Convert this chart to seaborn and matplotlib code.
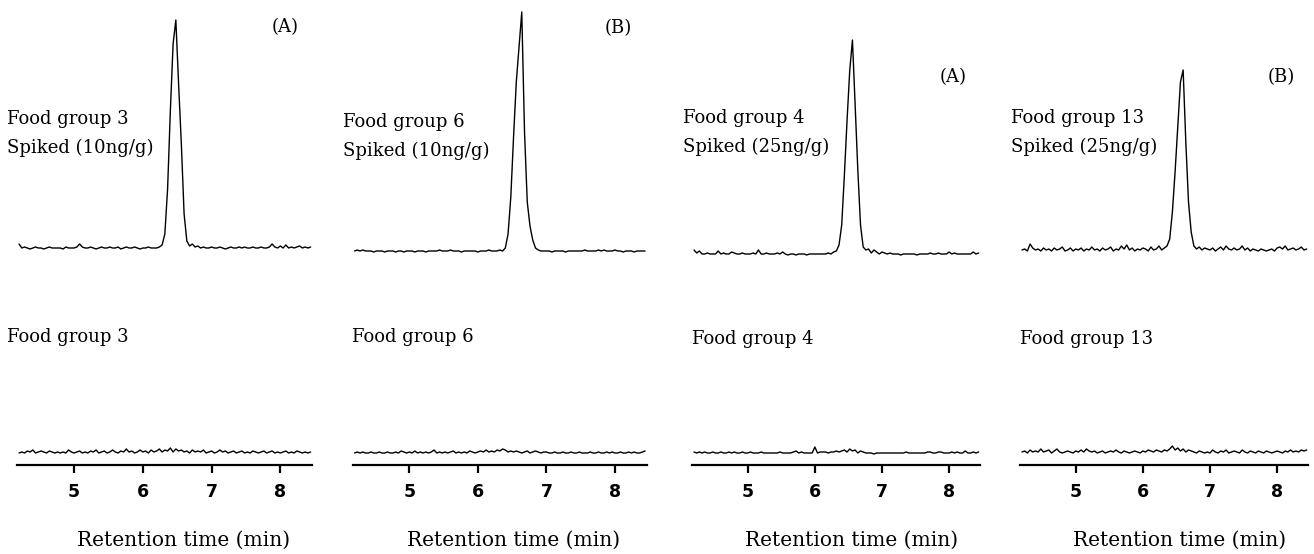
import numpy as np
import pandas as pd
import matplotlib
matplotlib.use("Agg")
import matplotlib.pyplot as plt
import seaborn as sns

# sampling grid of the chromatograms (min)
t_start = 4.20
t_step = 0.04

# signal above each trace's own baseline (arbitrary units)
spiked_3 = [5, 1, 2, 1, 0, 1, 2, 1, 1, 0,
            1, 2, 1, 1, 1, 1, 0, 2, 1, 1,
            1, 2, 5, 2, 1, 1, 2, 1, 0, 1,
            2, 1, 1, 2, 1, 1, 2, 0, 1, 2,
            1, 1, 2, 1, 0, 1, 1, 2, 1, 1,
            1, 2,
            4, 15, 60, 138, 205, 229, 165, 105, 35, 8, 3,
            5, 2, 3, 1, 2, 1, 1,
            2, 1, 1, 2, 1, 0, 1, 2, 1, 1,
            2, 1, 2, 1, 1, 2, 1, 1, 2, 1,
            1, 2, 5, 2, 1, 3, 1, 4, 1, 2,
            1, 2, 3, 1, 2, 1, 2]
blank_3 = [1, 2, 1, 3, 2, 4, 1, 2, 3, 2,
           1, 3, 2, 1, 2, 1, 2, 1, 4, 2,
           1, 2, 3, 1, 2, 1, 3, 2, 4, 1,
           2, 3, 1, 2, 4, 2, 1, 3, 2, 5,
           2, 3, 1, 2, 4, 2, 3, 1, 4, 2,
           3, 5, 2, 4, 3, 6, 2, 5, 3, 4,
           2, 3, 1, 4, 2, 3, 2, 4, 1, 2,
           3, 1, 2, 4, 2, 3, 1, 2, 3, 1,
           2, 3, 1, 2, 1, 3, 2, 1, 2, 3,
           1, 2, 3, 1, 2, 1, 2, 3, 1, 2,
           1, 3, 2, 1, 2, 1, 2]

spiked_6 = [1, 2, 1, 2, 1, 1, 1, 0, 1, 1,
            1, 0, 1, 1, 1, 0, 1, 1, 0, 1,
            1, 1, 0, 1, 1, 1, 0, 1, 1, 1,
            1, 2, 1, 1, 1, 2, 1, 1, 1, 0,
            1, 1, 1, 1, 1, 0, 1, 1, 1, 2,
            1, 1, 1, 2, 1,
            4, 18, 55, 115, 170, 205, 240, 120, 50, 26, 12, 4,
            2, 1, 1,
            1, 1, 0, 1, 1, 1, 1, 0, 1, 1,
            1, 1, 1, 1, 2, 1, 1, 1, 1, 2,
            1, 2, 1, 1, 1, 2, 1, 1, 0, 1,
            1, 1, 0, 1, 1, 1, 1]
blank_6 = [1, 2, 1, 2, 1, 1, 2, 1, 1, 2,
           1, 1, 2, 1, 1, 2, 1, 3, 2, 1,
           2, 1, 3, 1, 2, 1, 2, 1, 2, 4,
           1, 2, 1, 2, 1, 2, 3, 1, 2, 1,
           2, 1, 3, 2, 1, 2, 3, 2, 4, 2,
           3, 2, 4, 3, 5, 4, 2, 3, 2, 3,
           2, 1, 2, 3, 1, 2, 3, 2, 1, 2,
           2, 1, 1, 2, 1, 1, 2, 1, 1, 2,
           1, 1, 2, 1, 1, 1, 2, 1, 1, 2,
           1, 1, 2, 1, 2, 1, 1, 2, 1, 1,
           2, 1, 2, 1, 1, 2, 3]

spiked_4 = [5, 2, 4, 1, 1, 2, 1, 1, 1, 4,
            1, 2, 1, 1, 3, 2, 1, 1, 2, 1,
            1, 1, 2, 1, 5, 1, 1, 2, 1, 1,
            1, 2, 1, 3, 1, 0, 1, 1, 0, 1,
            1, 1, 0, 1, 1, 1, 1, 1, 1, 1,
            2, 1, 3,
            4, 10, 30, 80, 135, 185, 215, 150, 85, 30, 8, 5,
            6, 2, 5, 3, 1,
            3, 2, 1, 2, 1, 1, 1, 0, 1, 1,
            1, 1, 1, 0, 1, 1, 1, 1, 2, 1,
            1, 2, 1, 1, 1, 3, 1, 2, 1, 1,
            1, 1, 1, 1, 3, 1, 2]
blank_4 = [2, 1, 2, 1, 2, 1, 1, 2, 1, 1,
           2, 1, 1, 2, 1, 2, 1, 1, 2, 1,
           1, 2, 1, 1, 1, 2, 1, 1, 1, 1,
           1, 1, 2, 1, 1, 1, 1, 2, 3, 1,
           2, 1, 1, 1, 1, 7, 1, 2, 2, 2,
           1, 2, 2, 3, 2, 3, 4, 2, 5, 3,
           4, 1, 3, 2, 1, 1, 1, 0, 1, 1,
           1, 1, 1, 1, 1, 1, 1, 1, 1, 2,
           1, 1, 1, 1, 1, 1, 1, 2, 2, 1,
           1, 2, 2, 1, 1, 1, 2, 1, 2, 1,
           1, 3, 1, 1, 2, 1, 2]

spiked_13 = [2, 3, 1, 8, 4, 2, 3, 1, 4, 2,
             3, 1, 4, 2, 3, 5, 1, 2, 4, 1,
             3, 2, 4, 1, 3, 2, 5, 2, 3, 1,
             4, 2, 3, 5, 1, 3, 2, 6, 3, 7,
             2, 4, 1, 3, 2, 4, 3, 1, 5, 2,
             3, 6, 2, 4,
             6, 13, 40, 80, 125, 170, 182, 110, 50, 20, 6,
             3, 5, 2, 4, 3,
             2, 4, 1, 3, 5, 2, 6, 3, 2, 4,
             2, 3, 6, 2, 4, 1, 3, 2, 1, 3,
             2, 1, 2, 3, 1, 4, 5, 3, 6, 2,
             3, 4, 2, 3, 5, 2, 3]
blank_13 = [2, 3, 1, 4, 2, 3, 2, 5, 2, 3,
            4, 1, 3, 5, 2, 1, 2, 3, 2, 1,
            3, 2, 4, 2, 5, 3, 2, 3, 1, 2,
            3, 1, 2, 3, 2, 4, 2, 1, 3, 2,
            1, 2, 3, 2, 1, 3, 2, 4, 3, 2,
            4, 3, 2, 4, 3, 5, 8, 4, 6, 3,
            5, 2, 4, 3, 2, 1, 3, 2, 1, 2,
            1, 4, 2, 1, 3, 2, 4, 1, 2, 3,
            2, 1, 4, 2, 1, 3, 2, 1, 3, 2,
            1, 3, 2, 1, 2, 3, 2, 1, 3, 2,
            4, 2, 3, 2, 4, 3, 4]

groups = ["Food group 3", "Food group 6", "Food group 4", "Food group 13"]
spike_levels = ["Spiked (10ng/g)", "Spiked (10ng/g)", "Spiked (25ng/g)", "Spiked (25ng/g)"]
tags = ["(A)", "(B)", "(A)", "(B)"]
spiked_traces = [spiked_3, spiked_6, spiked_4, spiked_13]
blank_traces = [blank_3, blank_6, blank_4, blank_13]
x_ticks = [5, 6, 7, 8]

time = np.round(t_start + t_step * np.arange(len(spiked_3)), 2)

# layout (pixels of a 1314x554 figure)
W, H = 1314, 554
axis_y = 465
ax_left = [17, 352.5, 692, 1020]
ax_right = [312, 646.5, 980, 1308]
spiked_base = [216, 213, 210, 213]
blank_base = 11
group_xy = [(7, 124), (343, 127), (683, 123), (1011, 123)]
blank_xy = [(7, 342), (352, 342), (692, 344), (1020, 344)]
tag_xy = [(272, 27), (605, 28), (940, 77), (1268, 77)]
xlabel_x = [184, 514, 852, 1180]
xlabel_y = 540

sns.set_style("white")
plt.rcParams["font.family"] = ["DejaVu Sans"]
plt.rcParams["text.color"] = "black"
serif = "DejaVu Serif"

fig = plt.figure(figsize=(W / 100, H / 100), dpi=100)


def fx(px):
    return px / W


def fy(py):
    return 1 - py / H


for i in range(4):
    ax = fig.add_axes([fx(ax_left[i]), (H - axis_y) / H,
                       fx(ax_right[i] - ax_left[i]), axis_y / H])
    df = pd.DataFrame({
        "time": np.concatenate([time, time]),
        "signal": np.concatenate([np.array(spiked_traces[i]) + spiked_base[i],
                                  np.array(blank_traces[i]) + blank_base]),
        "trace": ["spiked"] * len(time) + ["blank"] * len(time),
    })
    sns.lineplot(data=df, x="time", y="signal", units="trace", estimator=None,
                 color="black", linewidth=1.0, ax=ax)
    ax.set_xlim(4.17, 8.46)
    ax.set_ylim(0, axis_y)
    for s in ["left", "right", "top"]:
        ax.spines[s].set_visible(False)
    ax.spines["bottom"].set_linewidth(1.6)
    ax.spines["bottom"].set_color("black")
    ax.set_xticks(x_ticks)
    ax.set_yticks([])
    ax.tick_params(axis="x", direction="out", length=6, width=1.6, pad=7,
                   labelsize=12.5, colors="black", bottom=True)
    for lab in ax.get_xticklabels():
        lab.set_fontweight("bold")
    ax.set_xlabel("")
    ax.set_ylabel("")
    ax.patch.set_alpha(0)

    gx, gy = group_xy[i]
    fig.text(fx(gx), fy(gy), groups[i], family=serif, fontsize=13, va="baseline")
    fig.text(fx(gx), fy(gy + 29), spike_levels[i], family=serif, fontsize=13, va="baseline")
    bx, by = blank_xy[i]
    fig.text(fx(bx), fy(by), groups[i], family=serif, fontsize=13, va="baseline")
    tx, ty = tag_xy[i]
    fig.text(fx(tx), fy(ty), tags[i], family=serif, fontsize=13, va="center")
    fig.text(fx(xlabel_x[i]), fy(xlabel_y), "Retention time (min)", family=serif,
             fontsize=14.5, ha="center", va="center")

fig.savefig("out.png", dpi=100)
